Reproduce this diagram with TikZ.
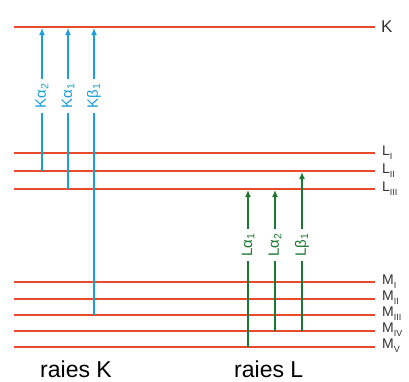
\documentclass[tikz,border=0pt]{standalone}
\usepackage{fontspec}
\setmainfont{Liberation Sans}
\usetikzlibrary{arrows.meta}
\definecolor{lvlred}{RGB}{232,74,44}
\definecolor{kblue}{RGB}{28,158,218}
\definecolor{lgreen}{RGB}{28,120,48}
\newcommand{\rsub}[1]{\raisebox{-0.5ex}{\fontsize{9}{9}\selectfont #1}}
\begin{document}
\begin{tikzpicture}[x=1pt,y=-1pt,
  level/.style={draw=lvlred,line width=1.7pt},
  kline/.style={draw=kblue,line width=1.7pt},
  lline/.style={draw=lgreen,line width=1.7pt},
  tip/.style={-{Latex[length=7pt,width=6pt]}},
  klab/.style={rotate=90,text=kblue,font=\fontsize{15}{15}\selectfont,inner sep=4pt},
  llab/.style={rotate=90,text=lgreen,font=\fontsize{15}{15}\selectfont,inner sep=4pt},
  rlab/.style={anchor=west,inner sep=0pt,text=black!80},
  botlab/.style={font=\fontsize{23}{23}\selectfont,inner sep=0pt}]
\useasboundingbox (0,0) rectangle (409,381);
% levels
\foreach \n/\y in {K/27,LI/153,LII/171,LIII/189,MI/282,MII/299,MIII/315,MIV/331,MV/347}{
  \coordinate (\n-l) at (14,\y);
  \coordinate (\n-r) at (375,\y);
  \draw[level] (\n-l) -- (\n-r);
}
% level labels
\node[rlab,font=\fontsize{17}{17}\selectfont] (tK) at (381,27) {K};
\node[rlab,font=\fontsize{14}{14}\selectfont] (tLI) at (382,153) {L\rsub{I}};
\node[rlab,font=\fontsize{14}{14}\selectfont] (tLII) at (382,171) {L\rsub{II}};
\node[rlab,font=\fontsize{14}{14}\selectfont] (tLIII) at (382,189) {L\rsub{III}};
\node[rlab,font=\fontsize{14}{14}\selectfont] (tMI) at (382,282) {M\rsub{I}};
\node[rlab,font=\fontsize{14}{14}\selectfont] (tMII) at (382,298) {M\rsub{II}};
\node[rlab,font=\fontsize{14}{14}\selectfont] (tMIII) at (382,314) {M\rsub{III}};
\node[rlab,font=\fontsize{14}{14}\selectfont] (tMIV) at (382,330) {M\rsub{IV}};
\node[rlab,font=\fontsize{14}{14}\selectfont] (tMV) at (382,346) {M\rsub{V}};
% K lines
\coordinate (a2b) at (42,171);  \coordinate (a2t) at (42,28);
\coordinate (a1b) at (68,189);  \coordinate (a1t) at (68,28);
\coordinate (b1b) at (94,315);  \coordinate (b1t) at (94,28);
\node[klab] (ka2) at (42,96) {Kα\textsubscript{2}};
\node[klab] (ka1) at (68,96) {Kα\textsubscript{1}};
\node[klab] (kb1) at (94,96) {Kβ\textsubscript{1}};
\draw[kline] (a2b) -- (ka2.west); \draw[kline,tip] (ka2.east) -- (a2t);
\draw[kline] (a1b) -- (ka1.west); \draw[kline,tip] (ka1.east) -- (a1t);
\draw[kline] (b1b) -- (kb1.west); \draw[kline,tip] (kb1.east) -- (b1t);
% L lines
\coordinate (la1b) at (248,347); \coordinate (la1t) at (248,190);
\coordinate (la2b) at (275,331); \coordinate (la2t) at (275,190);
\coordinate (lb1b) at (302,331); \coordinate (lb1t) at (302,172);
\node[llab] (la1) at (248,245) {Lα\textsubscript{1}};
\node[llab] (la2) at (275,245) {Lα\textsubscript{2}};
\node[llab] (lb1) at (302,245) {Lβ\textsubscript{1}};
\draw[lline] (la1b) -- (la1.west); \draw[lline,tip] (la1.east) -- (la1t);
\draw[lline] (la2b) -- (la2.west); \draw[lline,tip] (la2.east) -- (la2t);
\draw[lline] (lb1b) -- (lb1.west); \draw[lline,tip] (lb1.east) -- (lb1t);
% bottom labels
\node[botlab,anchor=base west] (rK) at (40,377) {raies K};
\node[botlab,anchor=base west] (rL) at (234,377) {raies L};
\end{tikzpicture}
\end{document}
